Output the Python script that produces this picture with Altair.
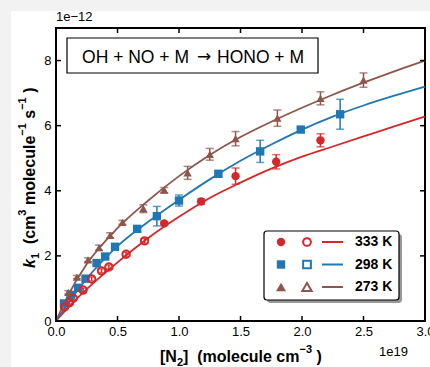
import altair as alt
import pandas as pd

# ---------------- data (x in 1e19 molecule cm^-3, k in 1e-12) ----------------
temps = ["333 K", "298 K", "273 K"]
colors = ["#d62728", "#1f77b4", "#8c564b"]
shapes = ["circle", "square", "triangle-up"]

curve_x = [0, 0.1, 0.25, 0.5, 0.75, 1.0, 1.25, 1.5, 1.75, 2.0, 2.25, 2.5, 2.75, 3.0]
curve_333 = [0, 0.42, 0.98, 1.80, 2.55, 3.20, 3.78, 4.25, 4.68, 5.05, 5.36, 5.67, 5.98, 6.28]
curve_298 = [0, 0.55, 1.30, 2.30, 3.05, 3.72, 4.35, 4.92, 5.42, 5.88, 6.28, 6.62, 6.92, 7.20]
curve_273 = [0, 0.80, 1.75, 2.85, 3.70, 4.45, 5.10, 5.65, 6.12, 6.55, 6.95, 7.32, 7.67, 8.00]

x333_filled = [0.88, 1.18, 1.46, 1.79, 2.15]
y333_filled = [3.00, 3.67, 4.45, 4.89, 5.55]
e333_filled = [0.05, 0.08, 0.25, 0.22, 0.20]
x333_open = [0.07, 0.11, 0.14, 0.22, 0.29, 0.37, 0.43, 0.57, 0.72]
y333_open = [0.43, 0.56, 0.70, 0.95, 1.29, 1.54, 1.66, 2.05, 2.46]
e333_open = [0.05, 0.05, 0.05, 0.06, 0.06, 0.06, 0.06, 0.06, 0.07]

x298 = [0.065, 0.12, 0.18, 0.24, 0.33, 0.40, 0.48, 0.66, 0.82, 1.00, 1.32, 1.66, 1.99, 2.31]
y298 = [0.54, 0.80, 1.02, 1.30, 1.78, 1.98, 2.28, 2.83, 3.22, 3.70, 4.52, 5.21, 5.88, 6.35]
e298 = [0.05, 0.05, 0.05, 0.05, 0.06, 0.06, 0.06, 0.08, 0.30, 0.17, 0.10, 0.34, 0.05, 0.46]

x273 = [0.10, 0.17, 0.26, 0.35, 0.44, 0.54, 0.71, 0.88, 1.07, 1.25, 1.46, 1.80, 2.15, 2.50]
y273 = [0.88, 1.35, 1.88, 2.25, 2.63, 3.03, 3.45, 4.02, 4.55, 5.12, 5.60, 6.23, 6.84, 7.40]
e273 = [0.05, 0.05, 0.06, 0.08, 0.08, 0.06, 0.12, 0.08, 0.20, 0.18, 0.22, 0.25, 0.20, 0.22]

x_ticks = [0.0, 0.5, 1.0, 1.5, 2.0, 2.5, 3.0]
y_ticks = [0, 2, 4, 6, 8]

# axis title pieces: (leading gap in spaces, text, role)  role: n=normal, i=italic, sub, sup
x_title = [(0, "[N", "n"), (0, "2", "sub"), (0, "]", "n"), (2, "(molecule cm", "n"),
           (0, "\u22123", "sup"), (1, ")", "n")]
y_title = [(0, "k", "i"), (0, "1", "sub"), (2, "(cm", "n"), (0, "3", "sup"), (1, "molecule", "n"),
           (0, "\u22121", "sup"), (1, "s", "n"), (0, "\u22121", "sup"), (1, ")", "n")]

# ---------------- tables ----------------
curves = pd.concat([
    pd.DataFrame({"x": curve_x, "y": curve_333, "T": temps[0]}),
    pd.DataFrame({"x": curve_x, "y": curve_298, "T": temps[1]}),
    pd.DataFrame({"x": curve_x, "y": curve_273, "T": temps[2]}),
])
pts = pd.concat([
    pd.DataFrame({"x": x333_filled, "y": y333_filled, "e": e333_filled, "T": temps[0], "open": False}),
    pd.DataFrame({"x": x333_open, "y": y333_open, "e": e333_open, "T": temps[0], "open": True}),
    pd.DataFrame({"x": x298, "y": y298, "e": e298, "T": temps[1], "open": False}),
    pd.DataFrame({"x": x273, "y": y273, "e": e273, "T": temps[2], "open": False}),
])
pts["lo"] = pts["y"] - pts["e"]
pts["hi"] = pts["y"] + pts["e"]
xt = pd.DataFrame({"t": x_ticks})
yt = pd.DataFrame({"t": y_ticks})

FONT = "Liberation Sans"
W, H = 369, 293
xs = alt.Scale(domain=[0, 3], nice=False, zero=False)
ys = alt.Scale(domain=[0, 9], nice=False)
cscale = alt.Scale(domain=temps, range=colors)
sscale = alt.Scale(domain=temps, range=shapes)
zscale = alt.Scale(domain=temps, range=[70, 70, 110])

x_axis = alt.Axis(values=x_ticks, format=".1f", title=None,
                  grid=False, domain=False, ticks=False, labelFlush=False, labelPadding=4,
                  labelFont=FONT, labelFontSize=13, labelColor="black")
y_axis = alt.Axis(values=y_ticks, format="d", title=None,
                  grid=False, domain=False, ticks=False, labelFlush=False, labelPadding=5,
                  labelFont=FONT, labelFontSize=13, labelColor="black")


def X(f):
    return alt.X(f, scale=xs, axis=x_axis)


def Y(f):
    return alt.Y(f, scale=ys, axis=y_axis)


col = alt.Color("T:N", scale=cscale, legend=None)
one = pd.DataFrame({"a": [0]})

# ---------- composite axis titles (bold, Arial-metric widths) ----------
CW = {"[": .333, "N": .722, "]": .333, " ": .278, "(": .333, ")": .333, "m": .889, "o": .611,
      "l": .278, "e": .556, "c": .556, "u": .611, "s": .556, "k": .556, "\u2212": .584}
MAIN, SMALL = 16, 11


def title_layers(pieces, start, base, vertical):
    out = []
    pos = start
    for gap, txt, role in pieces:
        fs = SMALL if role in ("sub", "sup") else MAIN
        shift = {"sub": 4, "sup": -9}.get(role, 0)
        adv = gap * CW[" "] * MAIN
        w = sum(CW.get(ch, .556) for ch in txt) * fs
        kw = dict(font=FONT, fontSize=fs, fontWeight="bold", color="black",
                  align="left", baseline="alphabetic")
        if role == "i":
            kw["fontStyle"] = "italic"
        if vertical:
            pos -= adv
            m = alt.Chart(one).mark_text(angle=270, **kw).encode(
                x=alt.value(base + shift), y=alt.value(pos), text=alt.value(txt))
            pos -= w
        else:
            pos += adv
            m = alt.Chart(one).mark_text(**kw).encode(
                x=alt.value(pos), y=alt.value(base + shift), text=alt.value(txt))
            pos += w
        out.append(m)
    return out


xtitle = title_layers(x_title, 104, 334, False)
ytitle = title_layers(y_title, 240, -21, True)

# grey outer margin strips (figure canvas is white from (11,11))
strips = [
    alt.Chart(one).mark_rect(fill="#f2f2f2", clip=False).encode(
        x=alt.value(-56), x2=alt.value(-45), y=alt.value(-28), y2=alt.value(H + 46)),
    alt.Chart(one).mark_rect(fill="#f2f2f2", clip=False).encode(
        x=alt.value(-56), x2=alt.value(W + 5), y=alt.value(-28), y2=alt.value(-17)),
]

box = alt.Chart(one).mark_rect(fill="white", stroke="black", strokeWidth=1.2).encode(
    x=alt.value(11), x2=alt.value(262), y=alt.value(10), y2=alt.value(45))
eq_l = alt.Chart(one).mark_text(font=FONT, fontSize=17.5, color="black", align="right", baseline="middle").encode(
    x=alt.value(133), y=alt.value(30), text=alt.value("OH + NO + M"))
eq_a = alt.Chart(one).mark_text(font="DejaVu Sans", fontSize=17, color="black", align="center", baseline="middle").encode(
    x=alt.value(148), y=alt.value(29), text=alt.value("\u2192"))
eq_r = alt.Chart(one).mark_text(font=FONT, fontSize=17.5, color="black", align="left", baseline="middle").encode(
    x=alt.value(161), y=alt.value(30), text=alt.value("HONO + M"))

lines = alt.Chart(curves).mark_line(strokeWidth=1.8, interpolate="monotone").encode(
    x=X("x:Q"), y=Y("y:Q"), color=col)

# inward tick marks on all four sides
tk = [
    alt.Chart(xt).mark_rule(color="black", strokeWidth=1.5).encode(
        x=X("t:Q"), y=alt.value(H), y2=alt.value(H - 5)),
    alt.Chart(xt).mark_rule(color="black", strokeWidth=1.5).encode(
        x=X("t:Q"), y=alt.value(0), y2=alt.value(5)),
    alt.Chart(yt).mark_rule(color="black", strokeWidth=1.5).encode(
        y=Y("t:Q"), x=alt.value(0), x2=alt.value(5)),
    alt.Chart(yt).mark_rule(color="black", strokeWidth=1.5).encode(
        y=Y("t:Q"), x=alt.value(W), x2=alt.value(W - 5)),
]

ebar = alt.Chart(pts).mark_rule(strokeWidth=1.5).encode(
    x=X("x:Q"), y=Y("lo:Q"), y2="hi:Q", color=col)
caps = alt.Chart(pts).transform_fold(["lo", "hi"], as_=["k", "v"]).mark_tick(
    orient="horizontal", size=8, thickness=1.5).encode(
    x=X("x:Q"), y=Y("v:Q"), color=col)

filled = alt.Chart(pts[~pts["open"]]).mark_point(filled=True, opacity=1).encode(
    x=X("x:Q"), y=Y("y:Q"), color=col,
    shape=alt.Shape("T:N", scale=sscale, legend=None),
    size=alt.Size("T:N", scale=zscale, legend=None))
opened = alt.Chart(pts[pts["open"]]).mark_point(filled=False, size=55, strokeWidth=2, opacity=1).encode(
    x=X("x:Q"), y=Y("y:Q"), color=col,
    shape=alt.Shape("T:N", scale=sscale, legend=None))

# manual legend
leg = [
    alt.Chart(one).mark_rect(fill="#999999", cornerRadius=3).encode(
        x=alt.value(211), x2=alt.value(346), y=alt.value(206), y2=alt.value(275)),
    alt.Chart(one).mark_rect(fill="white", stroke="black", strokeWidth=1.2, cornerRadius=3).encode(
        x=alt.value(208), x2=alt.value(343), y=alt.value(203), y2=alt.value(272)),
]
leg_sizes = [70, 70, 100]
for i, (t, c, s) in enumerate(zip(temps, colors, shapes)):
    yi = 214 + 22.5 * i
    leg.append(alt.Chart(one).mark_point(filled=True, shape=s, size=leg_sizes[i], color=c, opacity=1).encode(
        x=alt.value(225), y=alt.value(yi)))
    leg.append(alt.Chart(one).mark_point(filled=False, shape=s, size=leg_sizes[i] - 10, color=c,
                                         strokeWidth=2, opacity=1).encode(
        x=alt.value(251), y=alt.value(yi)))
    leg.append(alt.Chart(one).mark_rule(color=c, strokeWidth=2).encode(
        x=alt.value(266), x2=alt.value(287), y=alt.value(yi)))
    leg.append(alt.Chart(one).mark_text(font=FONT, fontSize=14, fontWeight="bold", color="black",
                                        align="left", baseline="middle").encode(
        x=alt.value(299), y=alt.value(yi), text=alt.value(t)))

off_y = alt.Chart(one).mark_text(font=FONT, fontSize=13, color="black", align="left", baseline="bottom").encode(
    x=alt.value(0), y=alt.value(-4), text=alt.value("1e\u221212"))
off_x = alt.Chart(one).mark_text(font=FONT, fontSize=13, color="black", align="right", baseline="middle").encode(
    x=alt.value(352), y=alt.value(324), text=alt.value("1e19"))

chart = alt.layer(lines, *strips, *tk, ebar, caps, filled, opened, box, eq_l, eq_a, eq_r,
                  *leg, off_y, off_x, *xtitle, *ytitle).properties(
    width=W, height=H,
    autosize=alt.AutoSizeParams(type="none"),
    padding={"left": 56, "top": 28, "right": 5, "bottom": 46},
    background="white",
).configure_view(stroke="black", strokeWidth=2)

chart.save("out.html", embed_options={"renderer": "svg", "actions": False})
